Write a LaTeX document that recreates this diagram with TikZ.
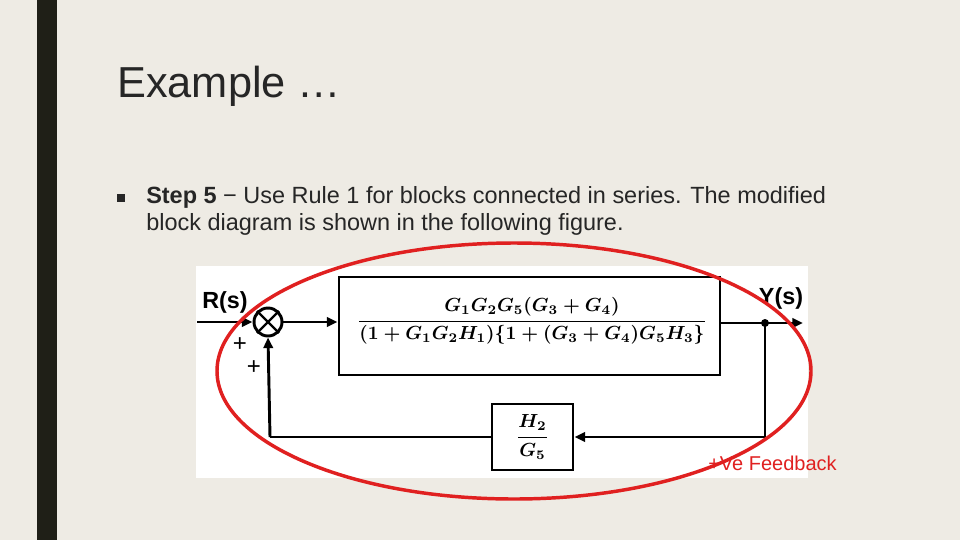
\documentclass[tikz,border=0pt]{standalone}
\usepackage{fontspec}
\setmainfont{Liberation Sans}
\usepackage{amsmath}
\usetikzlibrary{arrows.meta}
\begin{document}
\begin{tikzpicture}[x=0.75pt,y=-0.75pt,
  blk/.style={draw,line width=2.2pt,fill=white},
  wire/.style={line width=2.2pt},
  arr/.style={wire,-{Triangle[length=8pt,width=7pt]}},
  lbl/.style={font=\bfseries\fontsize{17.5}{19}\selectfont}]
\definecolor{bg}{HTML}{EEEBE4}
\definecolor{bar}{HTML}{1F1F17}
\definecolor{redc}{HTML}{E02020}
\fill[bg] (0,0) rectangle (960,540);
\useasboundingbox (0,0) rectangle (960,540);
\fill[bar] (37,0) rectangle (57,540);
\node[anchor=base west,inner sep=0,font=\fontsize{32.5}{36}\selectfont,text=black!85] (title) at (117,97) {Example …};
\fill[black!85] (117,194) rectangle (125,202);
\node[anchor=north west,inner sep=0,align=left,font=\fontsize{17.6}{20.3}\selectfont,text=black!85] (body) at (146,186)
  {\textbf{Step 5} − Use Rule 1 for blocks connected in series. The modified\\block diagram is shown in the following figure.};
\fill[white] (196,266) rectangle (808,478);
\node[blk,minimum width=381*0.75pt,minimum height=98*0.75pt] (G) at (529.5,326) {};
\node[scale=1.42] (Gt) at (532,321) {$\displaystyle\boldsymbol{\frac{G_1G_2G_5(G_3+G_4)}{(1+G_1G_2H_1)\{1+(G_3+G_4)G_5H_3\}}}$};
\node[blk,minimum width=81*0.75pt,minimum height=66*0.75pt] (H) at (532.5,437) {};
\node[scale=1.42] (Ht) at (532.5,437) {$\displaystyle\boldsymbol{\frac{H_2}{G_5}}$};
\node[draw,circle,line width=2.2pt,minimum size=28*0.75pt,inner sep=0] (S) at (268,322) {};
\draw[line width=1.8pt] (S.45)--(S.225) (S.135)--(S.-45);
\coordinate (in) at (197,322);
\coordinate (out) at (803,323);
\coordinate (tap) at (765,323);
\coordinate (br) at (765,437);
\coordinate (bl) at (270,437);
\draw[arr] (in) -- (S.west);
\draw[arr] (S.east) -- (G.west |- S.east);
\draw[arr] (G.east |- tap) -- (out);
\fill (tap) circle (4);
\draw[wire] (tap) -- (br);
\draw[arr] (br) -- (H.east);
\draw[wire] (H.west) -- (bl);
\draw[arr] (bl) -- (S.south);
\node[lbl] (R) at (225,302) {R(s)};
\node[lbl] (Y) at (781,298) {Y(s)};
\node[font=\fontsize{18}{18}\selectfont] (p1) at (240,345) {+};
\node[font=\fontsize{18}{18}\selectfont] (p2) at (254,368) {+};
\draw[redc,line width=2.6pt] (514,371) ellipse [x radius=297,y radius=128];
\node[anchor=west,inner sep=0,text=redc,font=\fontsize{15}{17}\selectfont] (fb) at (708,463) {+Ve Feedback};
\end{tikzpicture}
\end{document}
